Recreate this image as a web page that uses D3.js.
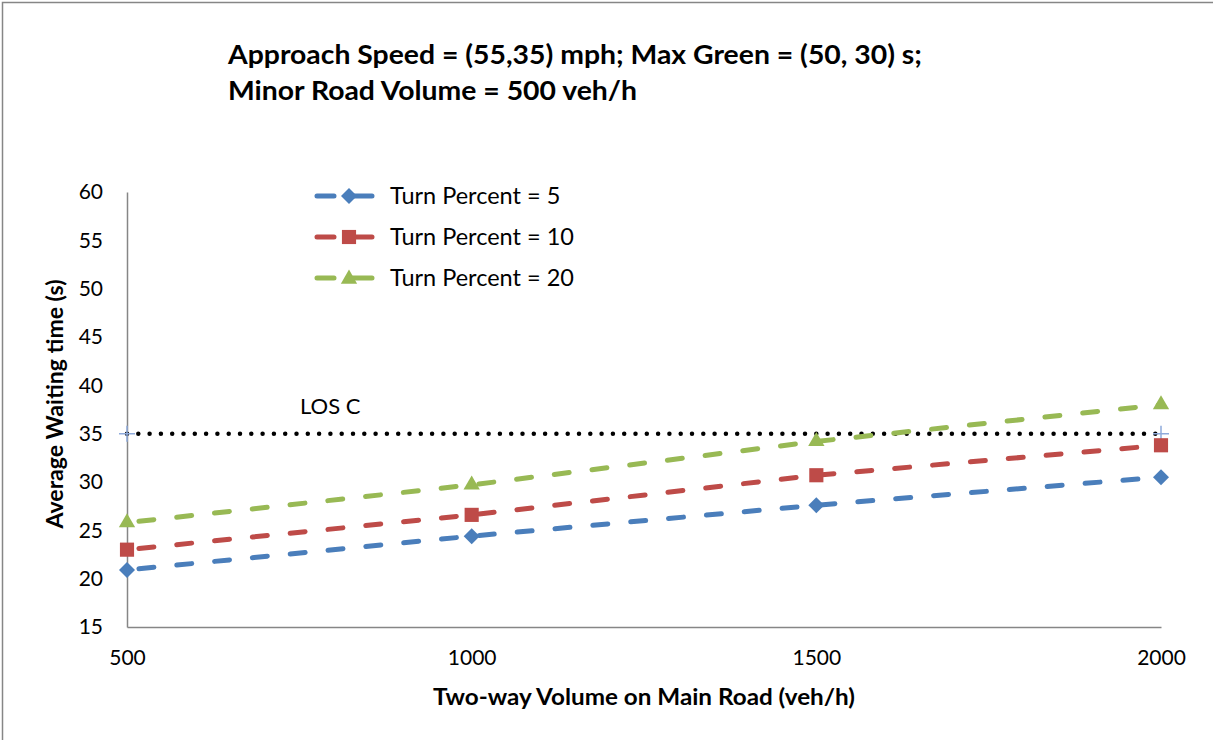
<!DOCTYPE html>
<meta charset="utf-8">
<style>
body { margin: 0; background: #fff; }
text { font-family: Lato, "Open Sans", sans-serif; fill: #000; }
.tick text { font-size: 21px; }
.title { font-size: 27px; font-weight: bold; }
.axis-title { font-size: 23px; font-weight: bold; }
.legend text { font-size: 23.5px; }
</style>
<body>
<script src="https://d3js.org/d3.v7.min.js"></script>
<script>
// data
var volumes = [500, 1000, 1500, 2000];
var turn5 = [20.9, 24.4, 27.6, 30.5];
var turn10 = [23.0, 26.6, 30.7, 33.8];
var turn20 = [25.8, 29.7, 34.2, 38.0];
var seriesNames = ["Turn Percent = 5", "Turn Percent = 10", "Turn Percent = 20"];
var losValue = 35;
var losLabel = "LOS C";
var yTicks = [15, 20, 25, 30, 35, 40, 45, 50, 55, 60];
var titleLines = ["Approach Speed = (55,35) mph; Max Green = (50, 30) s;", "Minor Road Volume = 500 veh/h"];

var W = 1213, H = 740;
var margin = {top: 192, right: 52, bottom: 113, left: 127};
var width = W - margin.left - margin.right,
    height = H - margin.top - margin.bottom;

var svg = d3.select("body").append("svg")
    .attr("width", W)
    .attr("height", H);

// outer chart border (runs off the right and bottom)
svg.append("rect")
    .attr("x", 2.5).attr("y", 2.5)
    .attr("width", W + 10).attr("height", H + 10)
    .attr("fill", "none")
    .attr("stroke", "#868686")
    .attr("stroke-width", 1.5);

var g = svg.append("g")
    .attr("transform", "translate(" + margin.left + "," + margin.top + ")");

var x = d3.scaleLinear().domain([500, 2000]).range([0, width]);
var y = d3.scaleLinear().domain([15, 60]).range([height, 0]);

// axes
var yAxis = g.append("g")
    .call(d3.axisLeft(y).tickValues(yTicks).tickSize(0).tickPadding(24));
yAxis.select(".domain").attr("stroke", "#868686").attr("stroke-width", 1.5);

var xAxis = g.append("g")
    .attr("transform", "translate(0," + height + ")")
    .call(d3.axisBottom(x).tickValues(volumes).tickFormat(d3.format("d")).tickSize(0).tickPadding(23));
xAxis.select(".domain").attr("stroke", "#868686").attr("stroke-width", 1.5);

// LOS C line
var losData = [{x: 500, y: losValue}, {x: 2000, y: losValue}];
g.append("path")
    .datum(losData)
    .attr("fill", "none")
    .attr("stroke", "#000")
    .attr("stroke-width", 4.5)
    .attr("stroke-linecap", "round")
    .attr("stroke-dasharray", "0 11.3")
    .attr("d", d3.line().x(function(d) { return x(d.x); }).y(function(d) { return y(d.y); }));

losData.forEach(function(d) {
  var px = x(d.x), py = y(d.y);
  g.append("path")
      .attr("d", "M" + (px - 8) + "," + py + "H" + (px + 8) + "M" + px + "," + (py - 8) + "V" + (py + 8))
      .attr("stroke", "#8eaadb")
      .attr("stroke-width", 1.5);
});

g.append("text")
    .attr("x", x(500) + 173)
    .attr("y", y(losValue) - 20)
    .style("font-size", "22px")
    .text(losLabel);

// series
var colors = ["#4a7ebb", "#be4b48", "#98b954"];
var seriesVals = [turn5, turn10, turn20];
var diamond = { draw: function(ctx, size) {
  var r = Math.sqrt(size / 2);
  ctx.moveTo(0, -r); ctx.lineTo(r, 0); ctx.lineTo(0, r); ctx.lineTo(-r, 0); ctx.closePath();
}};
var shapes = [diamond, d3.symbolSquare, d3.symbolTriangle];
var sizes = [128, 200, 115];

var line = d3.line()
    .x(function(d, i) { return x(volumes[i]); })
    .y(function(d) { return y(d); });

seriesVals.forEach(function(vals, k) {
  g.append("path")
      .datum(vals)
      .attr("fill", "none")
      .attr("stroke", colors[k])
      .attr("stroke-width", 5)
      .attr("stroke-linecap", "round")
      .attr("stroke-dasharray", "15 23")
      .attr("stroke-dashoffset", -12)
      .attr("d", line);
  g.selectAll(".m" + k)
      .data(vals)
    .enter().append("path")
      .attr("class", "m" + k)
      .attr("transform", function(d, i) { return "translate(" + x(volumes[i]) + "," + y(d) + ")"; })
      .attr("d", d3.symbol().type(shapes[k]).size(sizes[k]))
      .attr("fill", colors[k]);
});

// legend
var legend = svg.append("g").attr("class", "legend");
seriesNames.forEach(function(name, k) {
  var ly = 196 + k * 41;
  var row = legend.append("g");
  row.append("path")
      .attr("d", "M317," + ly + "H334M352," + ly + "H372")
      .attr("stroke", colors[k])
      .attr("stroke-width", 5)
      .attr("stroke-linecap", "round");
  row.append("path")
      .attr("transform", "translate(349," + (ly + (k == 2 ? 1 : 0)) + ")")
      .attr("d", d3.symbol().type(shapes[k]).size(sizes[k]))
      .attr("fill", colors[k]);
  row.append("text")
      .attr("x", 390)
      .attr("y", ly + 8)
      .text(name);
});

// titles
var titleWidths = [694, 409];
titleLines.forEach(function(t, i) {
  svg.append("text")
      .attr("class", "title")
      .attr("x", 228)
      .attr("y", 64 + i * 36)
      .attr("textLength", titleWidths[i])
      .attr("lengthAdjust", "spacingAndGlyphs")
      .text(t);
});

svg.append("text")
    .attr("class", "axis-title")
    .attr("text-anchor", "middle")
    .attr("x", 644)
    .attr("y", 705)
    .attr("textLength", 422)
    .attr("lengthAdjust", "spacingAndGlyphs")
    .text("Two-way Volume on Main Road (veh/h)");

svg.append("text")
    .attr("class", "axis-title")
    .attr("text-anchor", "middle")
    .attr("transform", "translate(63,404) rotate(-90)")
    .attr("textLength", 249)
    .attr("lengthAdjust", "spacingAndGlyphs")
    .text("Average Waiting time (s)");
</script>
</body>
